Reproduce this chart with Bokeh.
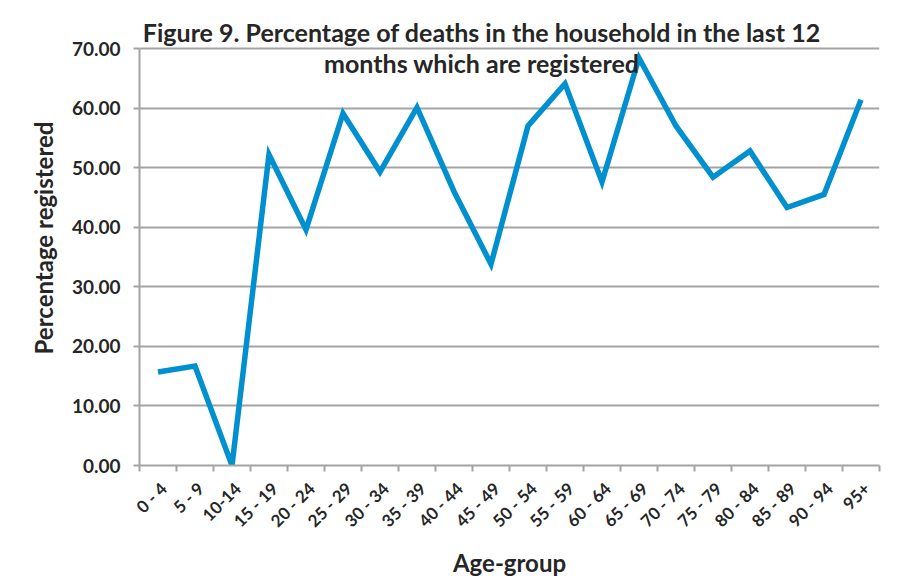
import math
from bokeh.plotting import figure
from bokeh.models import FixedTicker, NumeralTickFormatter, Range1d, Label
from bokeh.embed import file_html
from bokeh.resources import INLINE

age_groups = ["0 - 4", "5 - 9", "10-14", "15 - 19", "20 - 24", "25 - 29", "30 - 34",
              "35 - 39", "40 - 44", "45 - 49", "50 - 54", "55 - 59", "60 - 64",
              "65 - 69", "70 - 74", "75 - 79", "80 - 84", "85 - 89", "90 - 94", "95+"]
pct_registered = [15.7, 16.7, 0.0, 52.2, 39.6, 59.1, 49.3, 60.1, 46.0, 33.8,
                  57.0, 64.1, 47.6, 68.4, 57.0, 48.4, 52.8, 43.3, 45.5, 61.4]
y_ticks = [0, 10, 20, 30, 40, 50, 60, 70]
title_lines = ["Figure 9. Percentage of deaths in the household in the last 12",
               "months which are registered"]

FONT = "Lato"
GRID = "#a3a3a3"
TXT = "#262626"

x_pos = [i + 0.5 for i in range(len(age_groups))]
label_pos = [x + 0.15 for x in x_pos]  # rotated labels sit slightly right of the category centre

p = figure(frame_width=740, frame_height=455, output_backend="svg", toolbar_location=None,
           x_range=Range1d(0, len(age_groups)), y_range=Range1d(0, 76.38),
           min_border_left=139, min_border_right=2, min_border_top=10, min_border_bottom=107)
p.outline_line_color = None
p.background_fill_color = "white"

p.line(x_pos, pct_registered, line_color="#0090d0", line_width=5.5, line_join="miter")

# x axis
xa = p.xaxis[0]
xa.ticker = FixedTicker(ticks=label_pos, minor_ticks=list(range(len(age_groups) + 1)))
xa.major_label_overrides = {x: lab for x, lab in zip(label_pos, age_groups)}
xa.major_tick_out = 0
xa.major_tick_in = 0
xa.minor_tick_out = 6
xa.minor_tick_in = 0
xa.minor_tick_line_color = GRID
xa.minor_tick_line_width = 2
xa.axis_line_color = GRID
xa.axis_line_width = 2
xa.major_label_orientation = math.pi / 4
xa.major_label_text_font = FONT
xa.major_label_text_font_style = "bold"
xa.major_label_text_font_size = "17px"
xa.major_label_text_color = TXT
xa.major_label_standoff = 14
xa.axis_label = "Age-group"
xa.axis_label_text_font = FONT
xa.axis_label_text_font_style = "bold"
xa.axis_label_text_font_size = "24px"
xa.axis_label_text_color = TXT
xa.axis_label_standoff = 6

# y axis
ya = p.yaxis[0]
ya.ticker = FixedTicker(ticks=y_ticks)
ya.formatter = NumeralTickFormatter(format="0.00")
ya.bounds = (0, 70)
ya.major_tick_out = 6
ya.major_tick_in = 0
ya.minor_tick_line_color = None
ya.major_tick_line_color = GRID
ya.major_tick_line_width = 2
ya.axis_line_color = GRID
ya.axis_line_width = 2
ya.major_label_text_font = FONT
ya.major_label_text_font_style = "bold"
ya.major_label_text_font_size = "19px"
ya.major_label_text_color = TXT
ya.major_label_standoff = 13
ya.axis_label = "Percentage registered"
ya.axis_label_text_font = FONT
ya.axis_label_text_font_style = "bold"
ya.axis_label_text_font_size = "24px"
ya.axis_label_text_color = TXT
ya.axis_label_standoff = 11

p.xgrid.grid_line_color = None
p.ygrid.grid_line_color = GRID
p.ygrid.grid_line_width = 2

title_x = 9.25
title_y = [72.85, 67.65]
for t, ty in zip(title_lines, title_y):
    p.add_layout(Label(x=title_x, y=ty, text=t, text_align="center", text_baseline="middle",
                       text_font=FONT, text_font_style="bold", text_font_size="25px",
                       text_color=TXT))

open("out.html", "w").write(file_html(p, INLINE))
